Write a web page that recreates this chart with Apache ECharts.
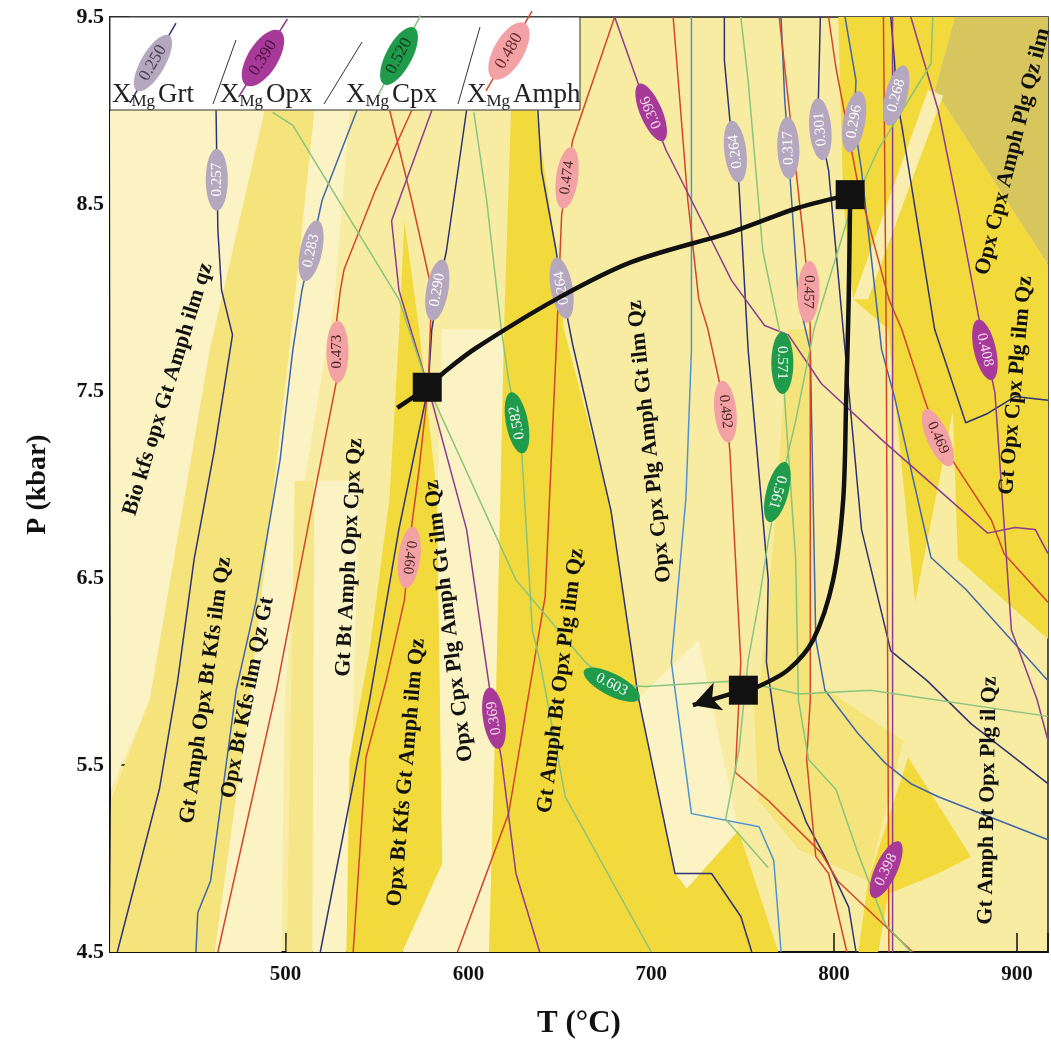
<!DOCTYPE html>
<html>
<head>
<meta charset="utf-8">
<title>P-T pseudosection</title>
<script src="https://cdn.jsdelivr.net/npm/echarts@6/dist/echarts.min.js"></script>
<style>
  html, body { margin: 0; padding: 0; background: #fff; }
  #chart { width: 1051px; height: 1050px; }
</style>
</head>
<body>
<div id="chart"></div>
<script>
// ---- values: T (°C), P (kbar) ----
const xTicks = [500, 600, 700, 800, 900];

// coloured fields of the pseudosection
const regionPaleLeft = [[404, 9.00], [490.2, 9.00], [458.6, 7.72], [425.8, 5.85], [404.5, 5.37]];
const regionMidBand = [[488.6, 9.00], [515.8, 9.00], [502.2, 7.72], [480.4, 5.85], [461.3, 4.50], [404, 4.50], [404.5, 5.31], [425.8, 5.85], [458.6, 7.72]];
const regionPaleMid = [[515.8, 9.00], [535, 9.00], [526.7, 7.99], [507.7, 6.86], [499.5, 5.85], [497.8, 4.50], [461.3, 4.50], [480.4, 5.85], [502.2, 7.72]];
const regionStrip = [[505, 7.02], [515.8, 7.02], [514.7, 4.50], [500.6, 4.50]];
const regionPaleNarrow = [[515.8, 7.02], [540.4, 7.02], [533.3, 4.50], [514.7, 4.50]];
const regionBright1 = [[565, 8.41], [573.1, 7.83], [583, 6.92], [585.7, 4.97], [563.9, 4.50], [533.3, 4.50], [535, 5.53], [545.9, 6.11], [556.8, 6.92], [562.2, 7.83]];
const regionPaleCol = [[585.7, 7.83], [619.5, 7.83], [615.1, 5.85], [611.3, 4.50], [563.9, 4.50], [585.7, 4.97], [583, 6.92]];
const regionBright2 = [[623.3, 9.00], [637, 9.00], [647.9, 8.25], [652.2, 7.83], [678.4, 6.86], [693.2, 5.86], [713.4, 4.92], [719.4, 4.84], [747.7, 5.15], [769.5, 4.50], [611.3, 4.50], [615.1, 5.85], [619.5, 7.83]];
const regionPaleWedge = [[693.2, 5.86], [725.9, 6.17], [747.7, 5.15], [719.4, 4.84], [713.4, 4.92]];
const regionBright3 = [[802.3, 9.50], [866.1, 9.50], [855.2, 9.11], [917.4, 8.17], [917.4, 6.17], [867.7, 6.60], [865, 7.39], [844.3, 6.37], [829.6, 7.83], [810.4, 7.99], [805, 8.52]];
const regionKhaki = [[866.1, 9.50], [917.4, 9.50], [917.4, 8.17], [855.2, 9.11]];
const regionStripe = [[859.6, 9.08], [851.4, 9.11], [810.4, 7.99], [818.6, 7.99]];
const regionBright4 = [[840.5, 5.54], [874.9, 5.01], [856.8, 4.92], [829.6, 4.81], [824.1, 4.50], [813.3, 4.50], [818.6, 4.88]];
const regionMidLow = [[755.9, 5.85], [796.8, 5.90], [837.8, 5.63], [818.6, 4.88], [780.5, 5.05], [758.6, 5.31]];
const regionMidRight = [[775, 7.83], [787, 7.83], [787, 5.85], [758.6, 5.85], [766.8, 6.69]];

// garnet isopleths
const grtLine1 = [[462, 9.00], [463, 8.36], [465, 8.04], [471, 7.80], [461, 7.18], [450, 6.60], [441, 5.95], [431, 5.37], [408, 4.50]];
const grtLine2 = [[539, 9.00], [520, 8.52], [514, 8.25], [509, 8.04], [504, 7.72], [497, 7.13], [484, 6.38], [473, 5.90], [459, 4.88], [452, 4.71], [451, 4.50]];
const grtLine3 = [[599, 9.00], [588, 8.25], [584, 8.06], [580, 7.83], [578, 7.52], [562, 6.76], [546, 5.85], [519, 4.50]];
const grtLine4 = [[638, 9.00], [640, 8.68], [648, 8.25], [651, 8.05], [657, 7.75], [678, 6.86], [693, 5.86], [713, 4.92], [733, 4.92], [749, 4.69], [755, 4.50]];
const grtLine5 = [[740, 9.50], [740, 9.27], [743, 8.95], [746, 8.78], [748, 8.60], [753, 7.72], [764, 6.49], [763, 6.05], [770, 5.58], [785, 5.19], [795, 5.01], [808, 4.74], [812, 4.50]];
const grtLine6 = [[771, 9.50], [773, 9.06], [775, 8.80], [776, 8.63], [780.5, 7.99], [787, 7.72], [790, 6.17], [795, 5.90], [813, 5.67], [828, 5.51], [842, 5.40], [857, 5.33], [917, 5.10]];
const grtLine7 = [[792.5, 9.50], [791.4, 9.06], [792.5, 8.90], [797, 8.68], [806, 7.72], [815, 6.76], [831, 6.11], [851, 5.95], [875, 5.72], [917, 5.40]];
const grtLine8 = [[806, 9.50], [812, 9.16], [811, 8.94], [815, 8.68], [826, 7.72], [833, 7.47], [853, 6.61], [872, 6.44], [917, 5.95]];
const grtLine9 = [[831, 9.50], [833, 9.27], [834, 9.08], [837, 8.92], [855, 7.83], [872, 7.33], [884, 7.38], [899, 7.47], [917, 7.45]];
const blueLine1 = [[722, 9.50], [722, 7.72], [719, 6.93], [711, 6.05], [722, 5.24], [759, 5.17], [767, 4.99], [771, 4.50]];

// amphibole isopleths
const amphLine1 = [[569, 9.00], [549, 8.57], [532, 8.15], [530, 8.04], [528, 7.88], [528, 7.56], [513, 6.81], [495, 5.90], [463, 4.50]];
const amphLine2 = [[557, 9.00], [569, 8.52], [580, 8.04], [578, 7.52], [573, 7.08], [569, 6.78], [565, 6.38], [555, 5.95], [544, 5.54], [537, 4.50]];
const amphLine3 = [[680, 9.50], [657, 8.84], [654, 8.64], [651, 8.44], [648, 7.72], [642, 6.40], [638, 6.17], [622, 5.24], [594, 4.50]];
const amphLine4 = [[712, 9.50], [720, 8.52], [726, 7.99], [731, 7.83], [737, 7.56], [741, 7.39], [743, 7.18], [749, 6.05], [746, 5.46], [764, 5.31], [793, 5.03], [802, 4.88], [843, 4.50]];
const amphLine5 = [[770, 9.50], [773, 9.23], [784, 8.25], [786, 8.03], [787, 7.83], [787, 5.85], [785, 5.53], [790, 5.01], [797, 4.92], [807, 4.50]];
const amphLine6 = [[797, 9.50], [801, 9.23], [813, 8.61], [830, 7.99], [837, 7.83], [850, 7.44], [857, 7.25], [868, 7.08], [886, 6.81], [893, 6.63], [917, 6.37]];
const amphLine7 = [[827, 9.50], [828.5, 7.83], [830, 4.50]];

// orthopyroxene isopleths
const opxLine1 = [[680, 9.50], [693, 9.14], [700, 8.99], [708, 8.79], [722, 8.52], [744, 8.09], [762, 7.85], [775, 7.80], [793, 7.54], [826, 7.24], [884, 6.74], [899, 6.77], [910, 6.76], [917, 6.63]];
const opxLine2 = [[580, 9.00], [558, 8.41], [562, 8.04], [578, 7.52], [599, 6.76], [611, 5.95], [614, 5.75], [618, 5.54], [626, 4.92], [639, 4.50]];
const opxLine3 = [[842, 9.50], [857, 9.00], [868, 8.47], [879, 7.90], [883, 7.72], [888, 7.49], [897, 6.22], [911, 5.85], [917, 5.63]];
const opxLine4 = [[832, 9.50], [832, 4.50]];

// clinopyroxene isopleths
const cpxLine1 = [[603, 8.99], [610, 8.52], [618, 7.83], [622, 7.56], [627, 7.33], [629, 7.20], [635, 6.22], [639, 6.06], [653, 5.33], [700, 4.50]];
const cpxLine2 = [[493, 8.99], [504, 8.92], [562, 7.99], [578, 7.52], [626, 6.49], [664, 6.05], [678, 5.93], [697, 5.92], [748, 5.95], [780.5, 5.88], [820, 5.90], [917, 5.76]];
const cpxLine3 = [[749, 9.50], [753, 9.16], [761, 8.25], [770, 7.83], [772, 7.65], [773, 7.45], [779, 6.60], [780.5, 5.85], [786, 5.53], [801, 5.37], [813, 5.03], [828, 4.65], [842, 4.50]];
const cpxLine4 = [[854, 9.50], [853, 9.25], [824, 8.79], [808, 8.44], [789, 7.83], [779, 7.34], [774, 7.13], [769, 6.96], [764, 6.70], [759, 6.38], [753, 6.06], [748, 5.58], [740.7, 5.21], [764, 4.95]];

// isopleth value tags [T, P, XMg]
const grtLabels = [[462.4, 8.63, '0.257'], [514, 8.25, '0.283'], [583, 8.04, '0.290'], [651, 8.05, '0.264'], [746, 8.78, '0.264'], [775, 8.80, '0.317'], [792.5, 8.90, '0.301'], [811, 8.94, '0.296'], [834, 9.08, '0.268']];
const opxLabels = [[700, 8.99, '0.396'], [614, 5.75, '0.369'], [882.5, 7.72, '0.408'], [828.5, 4.94, '0.398']];
const cpxLabels = [[626.6, 7.33, '0.582'], [771.7, 7.65, '0.571'], [769, 6.96, '0.561'], [678.4, 5.93, '0.603']];
const amphLabels = [[528.4, 7.71, '0.473'], [654, 8.64, '0.474'], [567.7, 6.61, '0.460'], [786, 8.03, '0.457'], [740.6, 7.39, '0.492'], [856.8, 7.25, '0.469']];

// assemblage names
const fieldNames = ['Bio kfs opx Gt Amph ilm qz', 'Gt Amph Opx Bt Kfs ilm Qz', 'Opx Bt Kfs ilm Qz Gt',
  'Gt Bt Amph Opx Cpx Qz', 'Opx Bt Kfs Gt Amph ilm Qz', 'Opx Cpx Plg Amph Gt ilm Qz', 'Gt Amph Bt Opx Plg ilm Qz',
  'Opx Cpx Plg Amph Gt ilm Qz', 'Opx Cpx Amph Plg Qz ilm', 'Gt Opx Cpx Plg ilm Qz', 'Gt Amph Bt Opx Plg il Qz'];
const fieldPos = [[435.7, 7.51], [456.4, 5.90], [479.3, 5.86], [535, 6.61], [566.1, 5.46], [589.5, 6.27], [650.6, 5.95],
  [699.2, 7.23], [897.8, 8.78], [899.4, 7.53], [884.1, 5.31]];

// P-T path
const ptPath1 = [[561.1, 7.41], [577.5, 7.52], [587.9, 7.61], [604.2, 7.73], [647.9, 7.99], [689.4, 8.19], [743.9, 8.35], [780.5, 8.48], [808.8, 8.55]];
const ptPath2 = [[808.8, 8.55], [808, 7.99], [806.6, 7.45], [805, 6.92], [799.5, 6.49], [788.6, 6.17], [775, 6.01], [758.6, 5.92], [750.4, 5.90]];
const ptPath3 = [[750.4, 5.90], [736.8, 5.86], [722.8, 5.82]];
const ptStations = [[577.5, 7.52], [808.8, 8.55], [750.4, 5.90]];
const ptArrow = [[722.8, 5.82]];

// ---- styling ----
const serif = '"Liberation Serif", "DejaVu Serif", serif';
const BASE = '#f8eca3', PALE = '#fbf3c4', MID = '#f5e37c', BRIGHT = '#f2d93c', KHAKI = '#d7c55e';
const NAVY = '#2f3373', BLUE = '#3f66a8', LBLUE = '#4e93d1', RED = '#d2452c', PURPLE = '#8b3c8f', GREEN = '#88c47c';

const regions = [
  { pts: regionPaleLeft, color: PALE },
  { pts: regionMidBand, color: MID },
  { pts: regionPaleMid, color: PALE },
  { pts: regionStrip, color: '#f6e68a' },
  { pts: regionPaleNarrow, color: PALE },
  { pts: regionBright1, color: BRIGHT },
  { pts: regionPaleCol, color: PALE },
  { pts: regionBright2, color: BRIGHT },
  { pts: regionPaleWedge, color: PALE },
  { pts: regionBright3, color: BRIGHT },
  { pts: regionKhaki, color: KHAKI },
  { pts: regionStripe, color: '#f9eeb0' },
  { pts: regionMidLow, color: MID },
  { pts: regionBright4, color: BRIGHT },
  { pts: regionMidRight, color: MID }
];

const isoLines = [
  [grtLine1, NAVY], [grtLine2, BLUE], [grtLine3, NAVY], [grtLine4, NAVY], [grtLine5, NAVY],
  [grtLine6, BLUE], [grtLine7, NAVY], [grtLine8, BLUE], [grtLine9, NAVY], [blueLine1, LBLUE],
  [amphLine1, RED], [amphLine2, RED], [amphLine3, RED], [amphLine4, RED], [amphLine5, RED], [amphLine6, RED], [amphLine7, RED],
  [opxLine1, PURPLE], [opxLine2, PURPLE], [opxLine3, PURPLE], [opxLine4, PURPLE],
  [cpxLine1, GREEN], [cpxLine2, GREEN], [cpxLine3, GREEN], [cpxLine4, GREEN]
];

// tag rotation (degrees, counter-clockwise) follows the isopleth it sits on
const grtAngles = [90, 78, 80, 100, 97, 92, 95, 80, 75];
const opxAngles = [113, 99, -77, 65];
const cpxAngles = [101, -90, -105, -27];
const amphAngles = [90, 82, -97, -92, -84, -66];
const fieldAngles = [73, 82, 79, 87, 85, 97, 83, 96, 76, 85, 89];

const tagStyles = [
  { list: grtLabels, angles: grtAngles, fill: '#b5a7bd', color: '#ffffff' },
  { list: opxLabels, angles: opxAngles, fill: '#a73a98', color: '#f6dcef' },
  { list: cpxLabels, angles: cpxAngles, fill: '#1f9b4b', color: '#ffffff' },
  { list: amphLabels, angles: amphAngles, fill: '#f2a2a5', color: '#4a2424' }
];
const tags = [];
tagStyles.forEach(s => s.list.forEach((d, i) => tags.push({ T: d[0], P: d[1], text: d[2], angle: s.angles[i], fill: s.fill, color: s.color })));

const series = [];

series.push({
  type: 'custom', z: 1, silent: true, clip: true,
  data: regions.map(r => r.pts[0]),
  renderItem: (params, api) => {
    const r = regions[params.dataIndex];
    return { type: 'polygon', shape: { points: r.pts.map(p => api.coord(p)) }, style: { fill: r.color } };
  }
});

isoLines.forEach(([d, c]) => series.push({
  type: 'line', z: 2, silent: true, data: d, symbol: 'none',
  lineStyle: { color: c, width: 1.5 }
}));

series.push({
  type: 'custom', z: 3, silent: true,
  data: tags.map(t => [t.T, t.P]),
  renderItem: (params, api) => {
    const t = tags[params.dataIndex];
    const p = api.coord([t.T, t.P]);
    return {
      type: 'group', x: p[0], y: p[1], rotation: t.angle * Math.PI / 180,
      children: [
        { type: 'ellipse', shape: { cx: 0, cy: 0, rx: 31, ry: 11 }, style: { fill: t.fill } },
        { type: 'text', style: { text: t.text, x: 0, y: 0, align: 'center', verticalAlign: 'middle', fill: t.color, font: '15px ' + serif } }
      ]
    };
  }
});

series.push({
  type: 'line', z: 4, silent: true, data: ptPath1, symbol: 'none', smooth: 0.3,
  lineStyle: { color: '#111', width: 4.5 }
});
series.push({
  type: 'line', z: 4, silent: true, data: ptPath2, symbol: 'none', smooth: 0.3,
  lineStyle: { color: '#111', width: 4.5 }
});
series.push({
  type: 'line', z: 4, silent: true, data: ptPath3, symbol: 'none',
  lineStyle: { color: '#111', width: 4.5 }
});
series.push({
  type: 'scatter', z: 5, silent: true, data: ptStations, symbol: 'rect', symbolSize: 29,
  itemStyle: { color: '#111', opacity: 1 }
});
series.push({
  type: 'scatter', z: 5, silent: true, data: ptArrow, symbol: 'arrow', symbolSize: [22, 27], symbolRotate: 109,
  itemStyle: { color: '#111', opacity: 1 }
});

series.push({
  type: 'custom', z: 6, silent: true,
  data: fieldPos,
  renderItem: (params, api) => {
    const i = params.dataIndex;
    const p = api.coord(fieldPos[i]);
    return {
      type: 'text', x: p[0], y: p[1], rotation: fieldAngles[i] * Math.PI / 180,
      style: { text: fieldNames[i], align: 'center', verticalAlign: 'middle', fill: '#111', font: 'bold 22px ' + serif }
    };
  }
});

// ---- legend box (top-left, inside the frame) ----
const legendItems = [
  { mineral: 'Grt', value: '0.250', fill: '#b5a7bd', valColor: '#4a3d52', line: NAVY, cx: 153, cy: 63, ang: 60, ry: 12, tx: 112 },
  { mineral: 'Opx', value: '0.390', fill: '#a73a98', valColor: '#4a1040', line: PURPLE, cx: 263, cy: 58, ang: 58, ry: 15, tx: 220 },
  { mineral: 'Cpx', value: '0.520', fill: '#1f9b4b', valColor: '#0d3a1a', line: GREEN, cx: 399, cy: 56, ang: 62, ry: 13, tx: 346 },
  { mineral: 'Amph', value: '0.480', fill: '#f2a2a5', valColor: '#6a2a2a', line: RED, cx: 509, cy: 51, ang: 60, ry: 15, tx: 467 }
];
const slashes = [[213, 104, 236, 40], [324, 104, 362, 42], [458, 104, 480, 27]];

const graphic = [{ type: 'rect', z: 100, shape: { x: 110, y: 17, width: 470, height: 93 }, style: { fill: '#ffffff', stroke: '#333', lineWidth: 1 } }];
legendItems.forEach(it => {
  const a = it.ang * Math.PI / 180, L = 46;
  graphic.push({ type: 'line', z: 101, shape: { x1: it.cx - L * Math.cos(a), y1: it.cy + L * Math.sin(a), x2: it.cx + L * Math.cos(a), y2: it.cy - L * Math.sin(a) }, style: { stroke: it.line, lineWidth: 1.5 } });
  graphic.push({
    type: 'group', z: 102, x: it.cx, y: it.cy, rotation: a,
    children: [
      { type: 'ellipse', z: 102, shape: { cx: 0, cy: 0, rx: 32, ry: it.ry }, style: { fill: it.fill } },
      { type: 'text', z: 103, style: { text: it.value, x: 0, y: 0, align: 'center', verticalAlign: 'middle', fill: it.valColor, font: '17px ' + serif } }
    ]
  });
  graphic.push({ type: 'text', z: 103, x: it.tx, y: 95, style: { text: 'X', font: '27px ' + serif, fill: '#222', verticalAlign: 'middle' } });
  graphic.push({ type: 'text', z: 103, x: it.tx + 19.5, y: 102, style: { text: 'Mg', font: '17px ' + serif, fill: '#222', verticalAlign: 'middle' } });
  graphic.push({ type: 'text', z: 103, x: it.tx + 46, y: 95, style: { text: it.mineral, font: '27px ' + serif, fill: '#222', verticalAlign: 'middle' } });
});
slashes.forEach(s => graphic.push({ type: 'line', z: 101, shape: { x1: s[0], y1: s[1], x2: s[2], y2: s[3] }, style: { stroke: '#333', lineWidth: 1 } }));

const chart = echarts.init(document.getElementById('chart'));
chart.setOption({
  animation: false,
  backgroundColor: '#ffffff',
  grid: { left: 110, right: 0, top: 17, bottom: 98, show: true, backgroundColor: BASE, borderColor: '#1c1c1c', borderWidth: 1.5 },
  xAxis: {
    type: 'value', min: 404, max: 917, splitNumber: 5,
    splitLine: { show: false },
    axisLine: { lineStyle: { color: '#111', width: 2 } },
    axisTick: { inside: true, length: 19, lineStyle: { color: '#111', width: 1.5 } },
    axisLabel: {
      formatter: v => (xTicks.includes(v) ? String(v) : ''),
      fontFamily: serif, fontWeight: 'bold', fontSize: 21, color: '#111', margin: 12
    },
    name: 'T (°C)', nameLocation: 'middle', nameGap: 56,
    nameTextStyle: { fontFamily: serif, fontWeight: 'bold', fontSize: 31, color: '#111' }
  },
  yAxis: {
    type: 'value', min: 4.5, max: 9.5, interval: 1,
    splitLine: { show: false },
    axisLine: { lineStyle: { color: '#111', width: 2 } },
    axisTick: { inside: true, length: 19, lineStyle: { color: '#111', width: 1.5 } },
    axisLabel: {
      formatter: v => v.toFixed(1),
      fontFamily: serif, fontWeight: 'bold', fontSize: 22, color: '#111', margin: 6
    },
    name: 'P (kbar)', nameLocation: 'middle', nameGap: 58, nameRotate: 90,
    nameTextStyle: { fontFamily: serif, fontWeight: 'bold', fontSize: 28, color: '#111' }
  },
  graphic: graphic,
  series: series
});
</script>
</body>
</html>
